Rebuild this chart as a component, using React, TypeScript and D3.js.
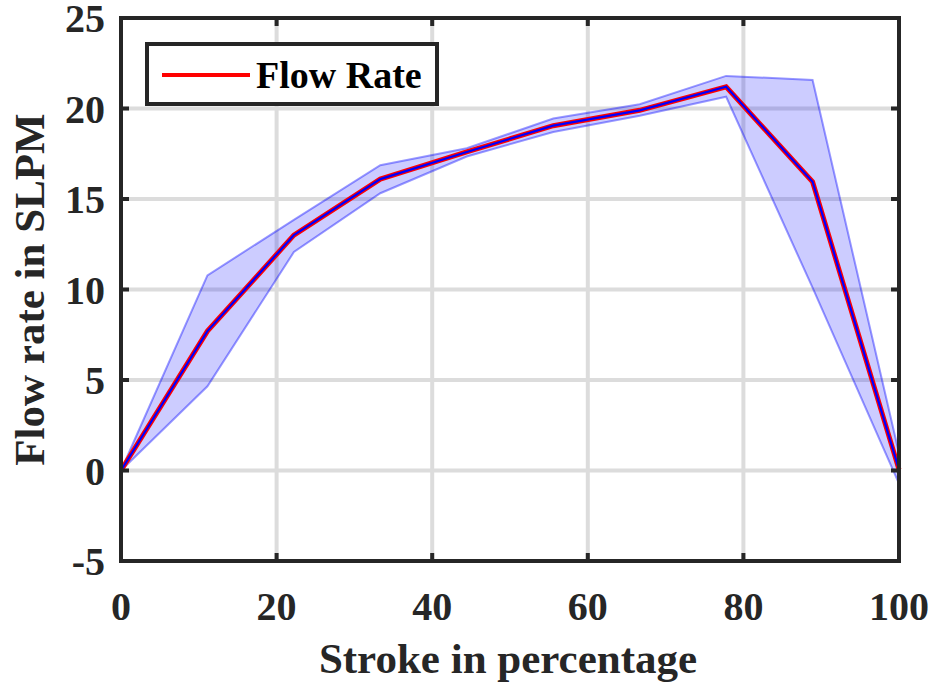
import React from "react";
import * as d3 from "d3";

// Stroke position (%) and measured flow rate statistics
const strokePct = [0, 11.11, 22.22, 33.33, 44.44, 55.56, 66.67, 77.78, 88.89, 100];
const flowMean = [0, 7.7, 13.0, 16.1, 17.6, 19.05, 19.9, 21.2, 15.95, 0.05];
const flowUpper = [0, 10.78, 13.85, 16.87, 17.8, 19.45, 20.24, 21.8, 21.58, 0.95];
const flowLower = [0, 4.65, 12.07, 15.32, 17.35, 18.7, 19.6, 20.65, 10.1, -0.72];

const xTicks = [0, 20, 40, 60, 80, 100];
const yTicks = [-5, 0, 5, 10, 15, 20, 25];

const W = 935;
const H = 688;
const M = { left: 121, right: 899, top: 18, bottom: 561 };
const FONT = "'Liberation Serif', 'Times New Roman', serif";
const AXIS = "#262626";

export default function App() {
  const x = d3.scaleLinear().domain([0, 100]).range([M.left, M.right]);
  const y = d3.scaleLinear().domain([-5, 25]).range([M.bottom, M.top]);

  const pts = strokePct.map((s, i) => ({ s, m: flowMean[i], u: flowUpper[i], l: flowLower[i] }));

  const band = d3
    .area<any>()
    .x((d) => x(d.s))
    .y0((d) => y(d.l))
    .y1((d) => y(d.u))(pts) as string;
  const upperLine = d3.line<any>().x((d) => x(d.s)).y((d) => y(d.u))(pts) as string;
  const lowerLine = d3.line<any>().x((d) => x(d.s)).y((d) => y(d.l))(pts) as string;
  const meanLine = d3.line<any>().x((d) => x(d.s)).y((d) => y(d.m))(pts) as string;

  return (
    <svg width={W} height={H} style={{ position: "absolute", left: 0, top: 0, background: "#fff" }}>
      <rect x={0} y={0} width={W} height={H} fill="#fff" />
      {/* grid */}
      <g stroke="#dcdcdc" strokeWidth={4}>
        {xTicks.slice(1, -1).map((t) => (
          <line key={"gx" + t} x1={x(t)} x2={x(t)} y1={M.top} y2={M.bottom} />
        ))}
        {yTicks.slice(1, -1).map((t) => (
          <line key={"gy" + t} x1={M.left} x2={M.right} y1={y(t)} y2={y(t)} />
        ))}
      </g>
      {/* uncertainty band */}
      <g>
        <path d={band} fill="rgba(0,0,255,0.2)" stroke="none" />
        <path d={upperLine} fill="none" stroke="rgba(0,0,255,0.4)" strokeWidth={2} />
        <path d={lowerLine} fill="none" stroke="rgba(0,0,255,0.4)" strokeWidth={2} />
      </g>
      {/* mean flow line */}
      <path d={meanLine} fill="none" stroke="#ff0000" strokeWidth={5} strokeLinejoin="miter" />
      <path d={meanLine} fill="none" stroke="#0000ff" strokeWidth={2.2} strokeLinejoin="miter" />
      {/* ticks */}
      <g stroke={AXIS} strokeWidth={4}>
        {xTicks.map((t) => (
          <g key={"tx" + t}>
            <line x1={x(t)} x2={x(t)} y1={M.bottom} y2={M.bottom - 8} />
            <line x1={x(t)} x2={x(t)} y1={M.top} y2={M.top + 8} />
          </g>
        ))}
        {yTicks.map((t) => (
          <g key={"ty" + t}>
            <line x1={M.left} x2={M.left + 8} y1={y(t)} y2={y(t)} />
            <line x1={M.right} x2={M.right - 8} y1={y(t)} y2={y(t)} />
          </g>
        ))}
      </g>
      {/* axes box */}
      <rect
        x={M.left}
        y={M.top}
        width={M.right - M.left}
        height={M.bottom - M.top}
        fill="none"
        stroke={AXIS}
        strokeWidth={4}
      />
      {/* tick labels */}
      <g fontFamily={FONT} fontWeight="bold" fontSize={40} fill={AXIS}>
        {xTicks.map((t) => (
          <text key={"lx" + t} x={x(t)} y={620} textAnchor="middle">
            {t}
          </text>
        ))}
        {yTicks.map((t) => (
          <text key={"ly" + t} x={105} y={y(t) + 14} textAnchor="end">
            {t}
          </text>
        ))}
      </g>
      {/* axis labels */}
      <text
        x={x(50) - 2}
        y={673}
        textAnchor="middle"
        fontFamily={FONT}
        fontWeight="bold"
        fontSize={43}
        fill={AXIS}
      >
        Stroke in percentage
      </text>
      <text
        transform={`translate(44, ${(M.top + M.bottom) / 2}) rotate(-90)`}
        textAnchor="middle"
        fontFamily={FONT}
        fontWeight="bold"
        fontSize={43}
        fill={AXIS}
      >
        Flow rate in SLPM
      </text>
      {/* legend */}
      <g>
        <rect x={147} y={44} width={290} height={60} fill="#fff" stroke={AXIS} strokeWidth={4} />
        <line x1={162} x2={250} y1={75} y2={75} stroke="#ff0000" strokeWidth={4} />
        <text x={256} y={88} fontFamily={FONT} fontWeight="bold" fontSize={38} fill="#000">
          Flow Rate
        </text>
      </g>
    </svg>
  );
}
